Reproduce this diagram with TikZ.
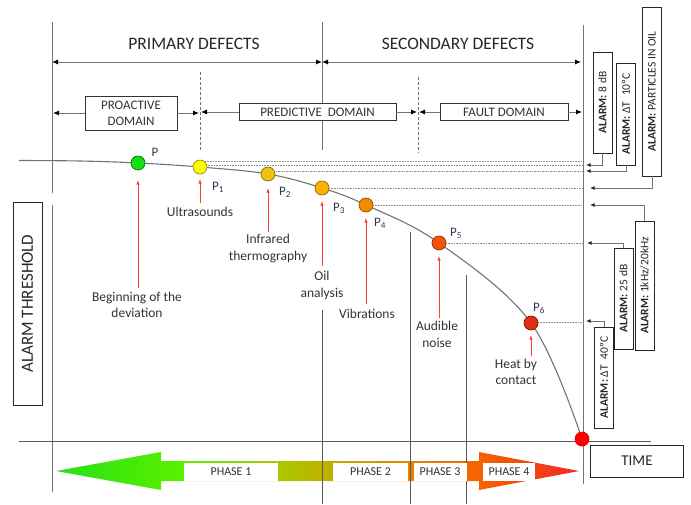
\documentclass[tikz,border=0pt]{standalone}
\usepackage{fontspec}
\setmainfont{Carlito}
\usetikzlibrary{arrows.meta}
\definecolor{sg0}{RGB}{40,225,20}
\definecolor{sg1}{RGB}{90,240,0}
\definecolor{sg2}{RGB}{170,200,0}
\definecolor{sg3}{RGB}{192,175,0}
\definecolor{sg4}{RGB}{228,130,0}
\definecolor{sg5}{RGB}{245,98,0}
\definecolor{sg6}{RGB}{240,40,40}
\definecolor{plab}{RGB}{45,55,85}
\definecolor{redarr}{RGB}{255,60,60}
\pgfdeclarehorizontalshading{phaseshade}{100bp}{color(0bp)=(sg0); color(25bp)=(sg0); color(37.2bp)=(sg1); color(46.4bp)=(sg2); color(51.2bp)=(sg3); color(59.3bp)=(sg4); color(65.5bp)=(sg5); color(75bp)=(sg6); color(100bp)=(sg6)}
\begin{document}
\begin{tikzpicture}[x=1pt,y=-1pt,
  ln/.style={draw=black!55, line width=0.9pt},
  lnd/.style={draw=black!65, line width=0.9pt},
  tipb/.tip={Latex[length=6pt,width=5pt,color=black]},
  tips/.tip={Latex[length=4.5pt,width=4pt,color=black!85]},
  tipr/.tip={Latex[length=4.5pt,width=3.5pt,color=redarr]},
  dbox/.style={draw=black!80, line width=0.8pt, fill=white, inner sep=0pt, align=center,
    font=\fontsize{13}{16}\selectfont, text=black!80},
  abox/.style={draw=black!85, line width=0.9pt, fill=white, inner sep=0pt, rotate=90,
    minimum height=19pt, font=\fontsize{11.5}{13}\selectfont, text=black!85},
  title/.style={font=\fontsize{17.5}{20}\selectfont, text=black!85},
  lab/.style={font=\fontsize{13.5}{16.5}\selectfont, text=black!80, align=center},
  plabel/.style={font=\fontsize{13}{15}\selectfont, text=plab},
  pt/.style={circle, draw, line width=0.7pt, minimum size=14pt, inner sep=0pt},
  phase/.style={fill=white, inner sep=0pt, minimum height=18pt, font=\fontsize{12}{14}\selectfont, text=black!80},
  dotl/.style={draw=black!45, line width=0.8pt, dash pattern=on 0.8pt off 0.8pt},
  redl/.style={draw=redarr, line width=0.8pt}
]
\useasboundingbox (0,0) rectangle (691,504);

% ---------- bottom phase arrow ----------
\shade[shading=phaseshade] (56,471) -- (161,452) -- (161,461) -- (479,461) -- (479,452) -- (579,471)
  -- (479,490) -- (479,481) -- (161,481) -- (161,490) -- cycle;

% ---------- vertical lines ----------
\draw[ln] (52,22) -- (52,193);
\draw[ln] (52,205) -- (52,492);
\draw[ln] (322,22) -- (322,150);
\draw[lnd] (322,310) -- (322,504);
\draw[lnd] (410,232) -- (410,504);
\draw[lnd] (466,275) -- (466,504);
\draw[ln] (583,25) -- (583,484);
% baseline
\draw[lnd] (19,441) -- (651,441);

% phase boxes
\node[phase, minimum width=94pt] (ph1) at (231,472) {PHASE 1};
\node[phase, minimum width=75pt] (ph2) at (370.5,472) {PHASE 2};
\node[phase, minimum width=53pt] (ph3) at (440,472) {PHASE 3};
\node[phase, minimum width=52pt] (ph4) at (509,472) {PHASE 4};

% ---------- titles ----------
\node[title] (prim) at (194,44) {PRIMARY DEFECTS};
\node[title] (sec) at (458,44) {SECONDARY DEFECTS};
\coordinate (t1) at (52,62);
\coordinate (t2) at (322,62);
\coordinate (t3) at (581,62);
\draw[ln, tipb-tipb] (t1) -- (t2);
\draw[ln, tipb-tipb] (t2) -- (t3);

% ---------- domains ----------
\draw[black!55, line width=1pt, dash pattern=on 3pt off 2pt] (200,72) -- (200,150);
\draw[black!55, line width=1pt, dash pattern=on 3pt off 2pt] (418,77) -- (418,153);
\node[dbox, minimum width=92pt, minimum height=34pt] (pro) at (131,113) {PROACTIVE\\DOMAIN};
\node[dbox, minimum width=157pt, minimum height=17pt] (pred) at (317.5,112) {PREDICTIVE\hspace{0.45em}DOMAIN};
\node[dbox, minimum width=128pt, minimum height=17pt] (fault) at (504,112) {FAULT DOMAIN};
\coordinate (a1) at (53,113);
\coordinate (a2) at (199,113);
\coordinate (a3) at (201,112);
\coordinate (a4) at (417,112);
\coordinate (a5) at (419,112);
\coordinate (a6) at (582,112);
\draw[ln, -tipb] (pro.west) -- (a1);
\draw[ln, -tipb] (pro.east) -- (a2);
\draw[ln, -tipb] (pred.west) -- (a3);
\draw[ln, -tipb] (pred.east) -- (a4);
\draw[ln, -tipb] (fault.west) -- (a5);
\draw[ln, -tipb] (fault.east) -- (a6);

% ---------- dotted level lines ----------
\coordinate (r0) at (583,161.5);
\coordinate (r1) at (583,165);
\coordinate (r2) at (583,171);
\coordinate (r3) at (583,188);
\coordinate (r4) at (583,205);
\coordinate (r5) at (583,243);
\coordinate (r6) at (583,322);
\draw[dotl] (205,161.5) -- (r0);
\draw[dotl] (206,165) -- (r1);
\draw[dotl] (276,171) -- (r2);
\draw[dotl] (329,188) -- (r3);
\draw[dotl] (373,205) -- (r4);
\draw[dotl] (446,243) -- (r5);
\draw[dotl] (538,322) -- (r6);

% ---------- degradation curve ----------
\draw[black!55, line width=1.1pt] plot[smooth, tension=0.6] coordinates
  {(19,160.5) (80,161) (138,163) (200,167) (268,174) (322,188) (366,205) (439,243) (531,323) (582,439)};

\node[pt, draw=green!45!black, fill={rgb,255:red,20;green,225;blue,20}] (p0) at (138,163) {};
\node[pt, draw={rgb,255:red,150;green,150;blue,0}, fill={rgb,255:red,255;green,255;blue,0}] (p1) at (200,167) {};
\node[pt, draw={rgb,255:red,140;green,110;blue,0}, fill={rgb,255:red,236;green,196;blue,20}] (p2) at (268,174) {};
\node[pt, draw={rgb,255:red,150;green,100;blue,0}, fill={rgb,255:red,250;green,180;blue,0}] (p3) at (322,188) {};
\node[pt, draw={rgb,255:red,150;green,80;blue,0}, fill={rgb,255:red,242;green,140;blue,0}] (p4) at (366,205) {};
\node[pt, draw={rgb,255:red,150;green,50;blue,0}, fill={rgb,255:red,242;green,85;blue,10}] (p5) at (439,243) {};
\node[pt, draw={rgb,255:red,130;green,20;blue,0}, fill={rgb,255:red,226;green,45;blue,15}] (p6) at (531,323) {};
\node[pt, draw={rgb,255:red,230;green,0;blue,0}, fill={rgb,255:red,255;green,0;blue,0}] (pe) at (582,439) {};

\node[plabel] (lp0) at (155,152) {P};
\node[plabel] (lp1) at (218,187) {P\textsubscript{1}};
\node[plabel] (lp2) at (285,192) {P\textsubscript{2}};
\node[plabel] (lp3) at (339,208) {P\textsubscript{3}};
\node[plabel] (lp4) at (380,223) {P\textsubscript{4}};
\node[plabel] (lp5) at (456,233) {P\textsubscript{5}};
\node[plabel] (lp6) at (539,308) {P\textsubscript{6}};

% ---------- technique labels ----------
\node[lab] (l0) at (137,305) {Beginning of the\\deviation};
\node[lab] (l1) at (200,212) {Ultrasounds};
\node[lab] (l2) at (268,248.5) {Infrared\\thermography};
\node[lab] (l3) at (322,285.5) {Oil\\analysis};
\node[lab] (l4) at (367,314) {Vibrations};
\node[lab] (l5) at (437,334.5) {Audible\\noise};
\node[lab] (l6) at (516,372) {Heat by\\contact};
\coordinate (h0) at (138,180);
\coordinate (h1) at (200,179);
\coordinate (h2) at (268,188);
\coordinate (h3) at (322,201);
\coordinate (h4) at (366,218);
\coordinate (h5) at (439,256);
\coordinate (h6) at (531,335);
\draw[redl, -tipr] (138,288) -- (h0);
\draw[redl, -tipr] (200,203) -- (h1);
\draw[redl, -tipr] (268,232) -- (h2);
\draw[redl, -tipr] (322,266) -- (h3);
\draw[redl, -tipr] (366,304) -- (h4);
\draw[redl, -tipr] (439,318) -- (h5);
\draw[redl, -tipr] (531,356) -- (h6);

% ---------- alarm boxes ----------
\node[abox, minimum width=101pt] (b8) at (602.5,102.5) {\textbf{ALARM:} 8 dB};
\node[abox, minimum width=102pt] (b10) at (626,114) {\textbf{ALARM:} ΔT\hspace{0.5em}10ºC};
\node[abox, minimum width=169pt] (boil) at (652,91.5) {\textbf{ALARM:} PARTICLES IN OIL};
\node[abox, minimum width=129pt] (bkhz) at (644.5,285.5) {\textbf{ALARM:} 1kHz/20kHz};
\node[abox, minimum width=101pt] (b25) at (623.5,298.5) {\textbf{ALARM:} 25 dB};
\node[abox, minimum width=101pt] (b40) at (604,377.5) {\textbf{ALARM:} ΔT\hspace{0.5em}40ºC};
\coordinate (e8) at (586,165);
\coordinate (e10) at (586,171);
\coordinate (eoil) at (590,188);
\coordinate (ekhz) at (590,205);
\coordinate (e25) at (587,243);
\coordinate (e40) at (586,321);
\draw[ln, -tips] (b8.west) |- (e8);
\draw[ln, -tips] (b10.west) |- (e10);
\draw[ln, -tips] (boil.west) |- (eoil);
\draw[ln, -tips] (bkhz.east) |- (ekhz);
\draw[ln, -tips] (b25.east) |- (e25);
\draw[ln, -tips] (b40.east) |- (e40);

% ---------- side boxes ----------
\node[draw=black!85, line width=1pt, rotate=90, minimum width=203pt, minimum height=29pt, inner sep=0pt,
  font=\fontsize{17}{20}\selectfont, text=black!85] (thr) at (27.5,303.5) {ALARM THRESHOLD};
\node[draw=black!85, line width=0.9pt, minimum width=93pt, minimum height=32pt, inner sep=0pt,
  font=\fontsize{15}{18}\selectfont, text=black!85] (time) at (637,461) {TIME};
\end{tikzpicture}
\end{document}
